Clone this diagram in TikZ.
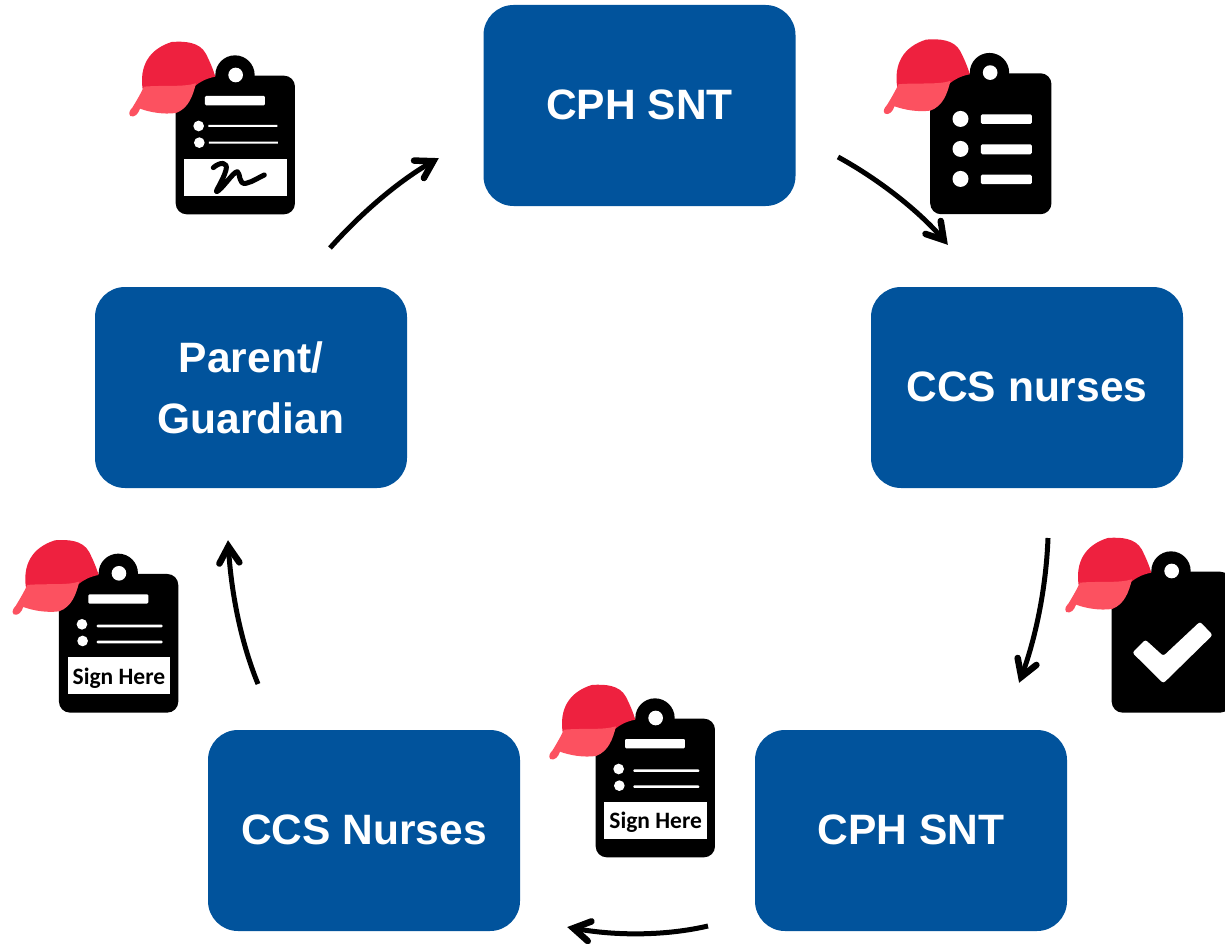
\documentclass[tikz,border=0pt]{standalone}
\usepackage{fontspec}
\setmainfont{Liberation Sans}
\newfontfamily\signfont{Carlito}
\usetikzlibrary{arrows.meta}
\definecolor{boxblue}{HTML}{01539C}
\definecolor{hatred}{HTML}{EE213F}
\definecolor{brimred}{HTML}{FC5160}
\pgfdeclarearrow{
  name=RoundBarbs,
  setup code={
    \pgfarrowssettipend{0pt}
    \pgfarrowssetlineend{-8pt}
    \pgfarrowssetvisualbackend{-8pt}
    \pgfarrowssetbackend{-26pt}
    \pgfarrowshullpoint{0pt}{0pt}
    \pgfarrowshullpoint{-26pt}{13pt}
    \pgfarrowshullpoint{-26pt}{-13pt}
  },
  drawing code={
    \pgfsetdash{}{0pt}
    \pgfsetlinewidth{6.5pt}
    \pgfsetroundcap
    \pgfsetmiterjoin
    \pgfsetmiterlimit{10}
    \pgfpathmoveto{\pgfqpoint{-23pt}{10pt}}
    \pgfpathlineto{\pgfqpoint{-6.5pt}{0pt}}
    \pgfpathlineto{\pgfqpoint{-23pt}{-10pt}}
    \pgfusepathqstroke
  }
}
\tikzset{
  x=1pt,y=-1pt,
  stagebox/.style={fill=boxblue,rounded corners=30pt,minimum width=312pt,minimum height=201pt,inner sep=0pt,
    text=white,font=\fontsize{42.5}{61}\selectfont\bfseries,align=center},
  flow/.style={draw=black,line width=5pt,-{RoundBarbs}},
  hatcap/.pic={
    \begin{scope}[x=.3333pt,y=-.3333pt]
      \fill[hatred] (68,178) .. controls (58,110) and (85,58) .. (155,36)
        .. controls (195,33) and (238,36) .. (257,70)
        .. controls (270,95) and (280,120) .. (286,140)
        .. controls (260,145) and (240,155) .. (225,168) -- (100,175) -- cycle;
      \fill[brimred] (72,170) .. controls (130,165) and (190,172) .. (228,160)
        .. controls (218,200) and (205,235) .. (168,249)
        .. controls (130,254) and (90,247) .. (60,236)
        .. controls (55,252) and (43,264) .. (31,258)
        .. controls (24,250) and (30,240) .. (37,233)
        .. controls (48,215) and (60,195) .. (72,170) -- cycle;
    \end{scope}
  },
  boardbase/.pic={
    \begin{scope}[x=.3333pt,y=-.3333pt]
      \fill[black,rounded corners=11pt] (167,137) rectangle (#1);
      \fill[black] (345,135) circle[radius=59];
      \fill[white] (347,135) circle[radius=22];
    \end{scope}
  },
  formtop/.pic={
    \begin{scope}[x=.3333pt,y=-.3333pt]
      \fill[white,rounded corners=1.2pt] (255,198) rectangle (435,226);
      \fill[white] (236,288) circle[radius=16] (238,338) circle[radius=16];
      \fill[white] (193,387) rectangle (500,498);
    \end{scope}
  }
}
\begin{document}
\begin{tikzpicture}
\useasboundingbox (0,0) rectangle (1225,944);

% stage boxes
\node[stagebox] (top) at (639.5,105.5) {\raisebox{1pt}{CPH SNT}};
\node[stagebox] (right) at (1027,387.5) {\raisebox{1pt}{CCS nurses}};
\node[stagebox] (bright) at (911,830.5) {\raisebox{1pt}{CPH SNT}};
\node[stagebox] (bleft) at (364,830.5) {\raisebox{1pt}{CCS Nurses}};
\node[stagebox] (left) at (251,387.5) {Parent/\\Guardian};

% arrow ends
\coordinate (a1s) at (330,248); \coordinate (a1e) at (439,158);
\coordinate (a2s) at (838,157); \coordinate (a2e) at (948,245);
\coordinate (a3s) at (1048,538); \coordinate (a3e) at (1019,683);
\coordinate (a4s) at (708,926); \coordinate (a4e) at (567,927);
\coordinate (a5s) at (258,684); \coordinate (a5e) at (228,540);
\draw[flow] (a1s) .. controls (362,212) and (400,180) .. (a1e);
\draw[flow] (a2s) .. controls (880,180) and (920,212) .. (a2e);
\draw[flow] (a3s) .. controls (1046,590) and (1035,640) .. (a3e);
\draw[flow] (a4s) .. controls (665,936) and (615,936) .. (a4e);
\draw[flow] (a5s) .. controls (240,640) and (231,590) .. (a5e);

% signature form
\pic at (120,30) {boardbase={525,553}};
\pic at (120,30) {formtop};
\begin{scope}[shift={(120,30)},x=.3333pt,y=-.3333pt]
  \fill[white] (265,285) rectangle (472,291) (267,335) rectangle (474,341);
  \draw[black,line width=5pt,line cap=round,line join=round] (280,413)
    .. controls (300,395) and (325,395) .. (318,420)
    .. controls (310,450) and (285,485) .. (290,485)
    .. controls (305,480) and (340,425) .. (352,425)
    .. controls (362,430) and (355,465) .. (378,460)
    .. controls (400,455) and (420,440) .. (433,435);
\end{scope}
\pic at (120,30) {hatcap};

% list form
\pic at (874.5,27.6) {boardbase={531,560}};
\begin{scope}[shift={(874.5,27.6)},x=.3333pt,y=-.3333pt]
  \fill[white] (258,274) circle[radius=24] (258,364) circle[radius=24] (258,454) circle[radius=24];
  \fill[white,rounded corners=1.5pt] (319,260) rectangle (472,289) (319,350) rectangle (472,380) (319,441) rectangle (472,470);
\end{scope}
\pic at (874.5,27.6) {hatcap};

% checked form
\pic at (1056,526) {boardbase={525,560}};
\begin{scope}[shift={(1056,526)},x=.3333pt,y=-.3333pt]
  \fill[white,rounded corners=2.5pt] (229,380) -- (268,341) -- (322,390) -- (432,287) -- (470,327) -- (322,472) -- cycle;
\end{scope}
\pic at (1056,526) {hatcap};

% sign-here forms
\foreach \ox/\oy/\nm in {540/673/signa, 3.3/528.3/signb}{
  \pic at (\ox,\oy) {boardbase={525,553}};
  \pic at (\ox,\oy) {formtop};
  \begin{scope}[shift={(\ox,\oy)},x=.3333pt,y=-.3333pt]
    \fill[white,rounded corners=1pt] (280,289) rectangle (478,297) (280,337) rectangle (478,345);
    \node[font=\signfont\fontsize{23.5}{24}\selectfont\bfseries,text=black,inner sep=0pt] (\nm) at (347,449) {Sign Here};
  \end{scope}
  \pic at (\ox,\oy) {hatcap};
}
\end{tikzpicture}
\end{document}
